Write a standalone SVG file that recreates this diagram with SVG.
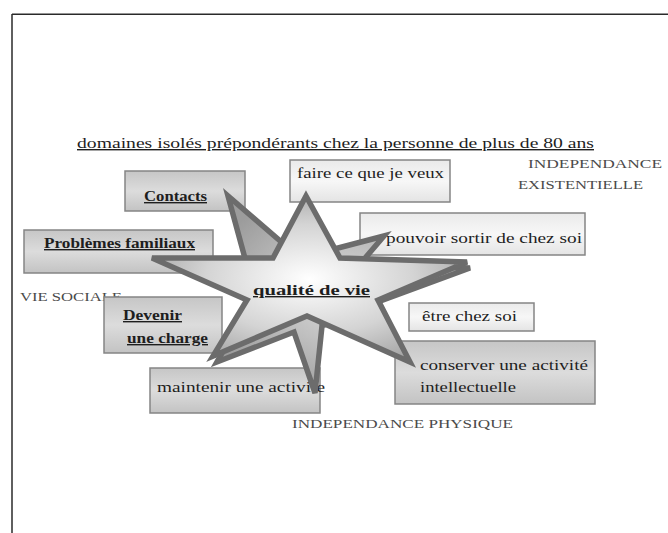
<svg xmlns="http://www.w3.org/2000/svg" width="668" height="533" viewBox="0 0 668 533">
<defs>
<linearGradient id="gGray" x1="0" y1="0" x2="0" y2="1">
<stop offset="0" stop-color="#c6c6c6"/><stop offset="0.5" stop-color="#dcdcdc"/><stop offset="1" stop-color="#c3c3c3"/>
</linearGradient>
<linearGradient id="gLight" x1="0" y1="0" x2="0" y2="1">
<stop offset="0" stop-color="#eaeaea"/><stop offset="0.5" stop-color="#f7f7f7"/><stop offset="1" stop-color="#e4e4e4"/>
</linearGradient>
<radialGradient id="gStar" cx="0.5" cy="0.5" r="0.55">
<stop offset="0" stop-color="#ffffff"/><stop offset="0.6" stop-color="#d4d4d4"/><stop offset="1" stop-color="#a6a6a6"/>
</radialGradient>
<radialGradient id="gStarB" cx="0.5" cy="0.5" r="0.55">
<stop offset="0" stop-color="#dedede"/><stop offset="1" stop-color="#9c9c9c"/>
</radialGradient>
</defs>
<style>
.box{stroke:#858585;stroke-width:1.5}
.t{font-family:"Liberation Serif","DejaVu Serif","Times New Roman",serif;fill:#1e1e1e;font-size:14px}
.b{font-weight:bold;text-decoration:underline}
.cap{font-family:"Liberation Serif","DejaVu Serif","Times New Roman",serif;fill:#4a4a4a;font-size:13px}
.star{stroke:#6c6c6c;stroke-width:5.5;stroke-linejoin:miter}
</style>
<rect width="668" height="533" fill="#ffffff"/>
<g id="frame" stroke="#2a2a2a" stroke-width="1.5" fill="none">
<line x1="12" y1="14.3" x2="668" y2="14.3"/>
<line x1="12" y1="14" x2="12" y2="533"/>
</g>
<g id="title">
<text class="t" x="77" y="148" textLength="517" lengthAdjust="spacingAndGlyphs" font-size="15" text-decoration="underline">domaines isolés prépondérants  chez la personne de plus de 80 ans</text>
</g>
<g id="label-existentielle">
<text class="cap" x="528" y="168" textLength="134" lengthAdjust="spacingAndGlyphs">INDEPENDANCE</text>
<text class="cap" x="518" y="189" textLength="125" lengthAdjust="spacingAndGlyphs">EXISTENTIELLE</text>
</g>
<g id="label-sociale">
<text class="cap" x="20" y="301" textLength="102" lengthAdjust="spacingAndGlyphs">VIE SOCIALE</text>
</g>
<g id="label-physique">
<text class="cap" x="292" y="428" textLength="221" lengthAdjust="spacingAndGlyphs">INDEPENDANCE PHYSIQUE</text>
</g>
<g id="node-contacts">
<rect class="box" x="125" y="171" width="120" height="40" fill="url(#gGray)"/>
<text class="t b" x="144" y="201" textLength="63" lengthAdjust="spacingAndGlyphs">Contacts</text>
</g>
<g id="node-problemes">
<rect class="box" x="24" y="230" width="189" height="43" fill="url(#gGray)"/>
<text class="t b" x="44" y="248" textLength="151" lengthAdjust="spacingAndGlyphs">Problèmes familiaux</text>
</g>
<g id="node-faire">
<rect class="box" x="290" y="160" width="160" height="42" fill="url(#gLight)"/>
<text class="t" x="297" y="178" textLength="147" lengthAdjust="spacingAndGlyphs">faire ce que je veux</text>
</g>
<g id="node-pouvoir">
<rect class="box" x="360" y="213" width="225" height="42" fill="url(#gLight)"/>
<text class="t" x="386" y="243" textLength="196" lengthAdjust="spacingAndGlyphs">pouvoir sortir de chez soi</text>
</g>
<g id="node-devenir">
<rect class="box" x="104" y="297" width="118" height="56" fill="url(#gGray)"/>
<text class="t b" x="123" y="320" textLength="59" lengthAdjust="spacingAndGlyphs">Devenir</text>
<text class="t b" x="127" y="343" textLength="81" lengthAdjust="spacingAndGlyphs">une charge</text>
</g>
<g id="node-maintenir">
<rect class="box" x="150" y="368" width="170" height="45" fill="url(#gGray)"/>
<text class="t" x="157" y="392" textLength="168" lengthAdjust="spacingAndGlyphs">maintenir une activite</text>
</g>
<g id="node-etre">
<rect class="box" x="409" y="303" width="125" height="28" fill="url(#gLight)"/>
<text class="t" x="422" y="321" textLength="95" lengthAdjust="spacingAndGlyphs">être chez soi</text>
</g>
<g id="node-conserver">
<rect class="box" x="395" y="341" width="200" height="63" fill="url(#gGray)"/>
<text class="t" x="420" y="370" textLength="168" lengthAdjust="spacingAndGlyphs">conserver une activité</text>
<text class="t" x="420" y="392" textLength="96" lengthAdjust="spacingAndGlyphs">intellectuelle</text>
</g>
<g id="node-qualite">
<polygon class="star" fill="url(#gStarB)" points="470,268 375,303 322,326 315,393 294,332 217,362 255,295 228,196 300,258 384,236 360,264"/>
<polygon class="star" fill="url(#gStar)" points="306,196 340,258 467,262 378,300 410,362 307,316 213,356 247,300 152,258 273,258"/>
<text class="t b" x="253" y="295" textLength="117" lengthAdjust="spacingAndGlyphs" font-size="15">qualité de vie</text>
</g>
</svg>
